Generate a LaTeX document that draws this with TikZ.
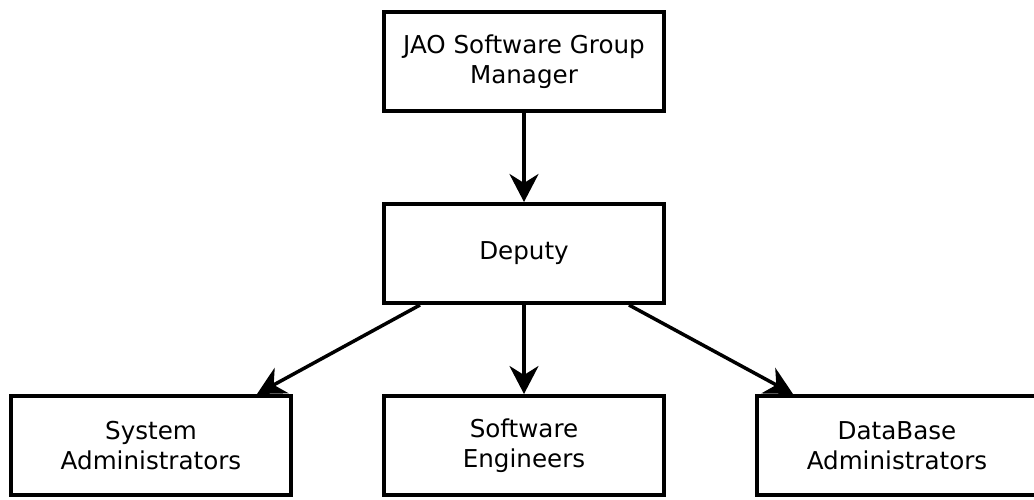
\documentclass[tikz,border=0pt]{standalone}
\usepackage{fontspec}
\setmainfont{DejaVu Sans}
\usetikzlibrary{arrows.meta,positioning}

\begin{document}
\begin{tikzpicture}[>={Stealth[length=28pt,width=29pt,inset=9pt]},line width=3.5pt,node distance=89pt,
        unit/.style={draw,rectangle,line width=4pt,minimum width=280pt,minimum height=99pt,align=center,
                     font=\fontsize{24.6}{30}\selectfont}]

                \useasboundingbox (0,0) rectangle (1034pt,-500pt);

                \node[unit] (manager) at (524pt,-61.5pt) {JAO Software Group\\Manager};

                \node[unit] (deputy) [below=of manager] {Deputy};

                \node[unit] (softeng) [below=of deputy] {Software\\Engineers};

                \node[unit] (sysadm) [left=of softeng] {System\\Administrators};

                \node[unit] (dbadm) [right=of softeng] {DataBase\\Administrators};

                

                \draw[->] (manager) -- (deputy);

                \draw[->] ([xshift=-104pt]deputy.south) -- ([xshift=106pt]sysadm.north);

                \draw[->] (deputy) -- (softeng);

                \draw[->] ([xshift=105pt]deputy.south) -- ([xshift=-104pt]dbadm.north);

            \end{tikzpicture}
\end{document}
